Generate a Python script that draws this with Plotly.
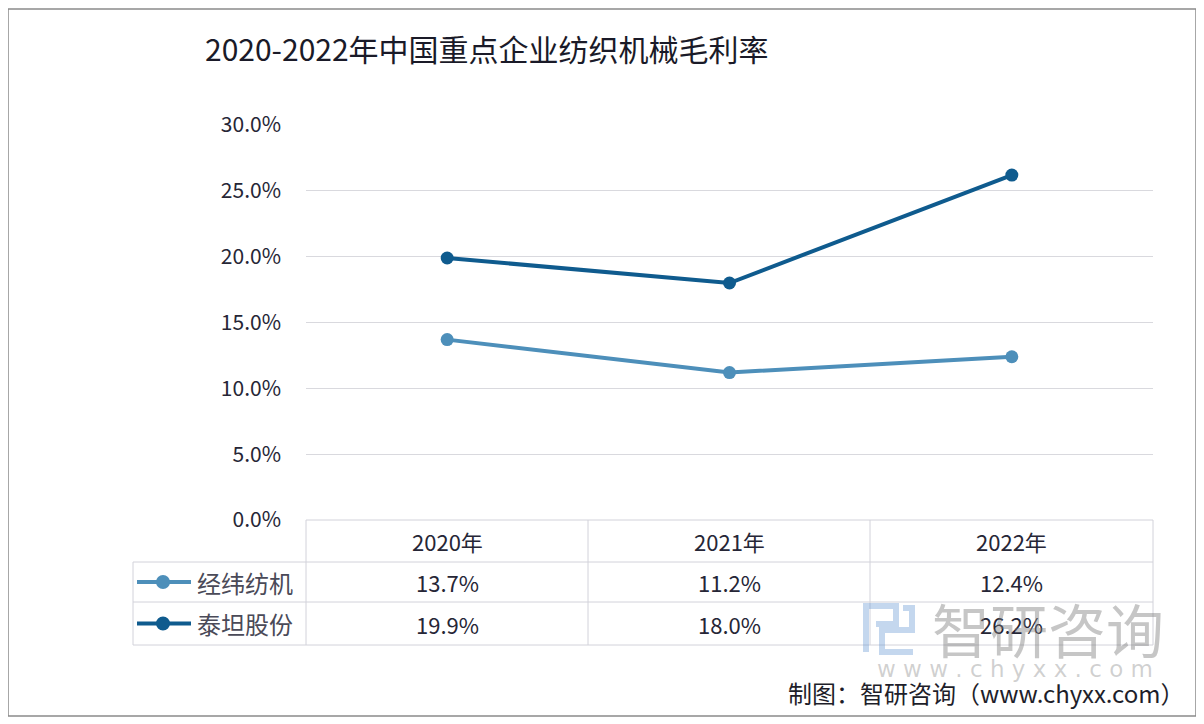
import plotly.graph_objects as go

# data
years = ["2020年", "2021年", "2022年"]
jingwei = [13.7, 11.2, 12.4]     # 经纬纺机
taitan = [19.9, 18.0, 26.2]      # 泰坦股份
series_names = ["经纬纺机", "泰坦股份"]
series_values = [jingwei, taitan]
series_colors = ["#4d8fba", "#0f5b8e"]
y_ticks = [0, 5, 10, 15, 20, 25, 30]

# the page puts the figure at (8, 8), so the figure is 8px smaller on each side
OFF = 8
W, H = 1204 - OFF, 724 - OFF
PL, PR, PT, PB = 306, 1153, 125, 520   # plot area, in screenshot pixels


def px_x(x):
    return (x - PL) / (PR - PL)


def px_y(y):
    return (PB - y) / (PB - PT)


CJK = "Noto Sans CJK SC"
grid = "#d9d9de"
txt = "#262636"

fig = go.Figure()

for name, vals, col in zip(series_names, series_values, series_colors):
    fig.add_trace(go.Scatter(
        x=years, y=vals, mode="lines+markers", name=name,
        line=dict(color=col, width=4),
        marker=dict(size=13, color=col),
        cliponaxis=False, showlegend=False, hoverinfo="skip"
    ))

shapes = []
# outer frame
shapes.append(dict(type="rect", xref="paper", yref="paper",
                   x0=px_x(8), x1=px_x(1196), y0=px_y(716), y1=px_y(9),
                   line=dict(color="#8a8a8a", width=1.5), layer="below"))

# table lines
tbl_line = dict(color="#d2d2da", width=1)
row_y = [520, 562, 602, 645]
col_x = [306, 588, 870, 1153]
shapes.append(dict(type="line", xref="paper", yref="paper",
                   x0=px_x(306), x1=px_x(1153), y0=px_y(520), y1=px_y(520), line=tbl_line))
for yy in row_y[1:]:
    shapes.append(dict(type="line", xref="paper", yref="paper",
                       x0=px_x(133), x1=px_x(1153), y0=px_y(yy), y1=px_y(yy), line=tbl_line))
for xx in col_x:
    shapes.append(dict(type="line", xref="paper", yref="paper",
                       x0=px_x(xx), x1=px_x(xx), y0=px_y(520), y1=px_y(645), line=tbl_line))
shapes.append(dict(type="line", xref="paper", yref="paper",
                   x0=px_x(133), x1=px_x(133), y0=px_y(562), y1=px_y(645), line=tbl_line))

annotations = []
for yr in years:
    annotations.append(dict(x=yr, xref="x", y=px_y(541), yref="paper", text=yr,
                            xanchor="center", yanchor="middle", showarrow=False,
                            font=dict(family=CJK, size=22, color=txt)))

for i, (name, vals, col) in enumerate(zip(series_names, series_values, series_colors)):
    cy = (row_y[i + 1] + row_y[i + 2]) / 2
    shapes.append(dict(type="line", xref="paper", yref="paper",
                       x0=px_x(137), x1=px_x(191), y0=px_y(cy), y1=px_y(cy),
                       line=dict(color=col, width=4)))
    shapes.append(dict(type="circle", xref="paper", yref="paper",
                       x0=px_x(156), x1=px_x(170), y0=px_y(cy + 7), y1=px_y(cy - 7),
                       fillcolor=col, line=dict(color=col, width=0)))
    annotations.append(dict(x=px_x(195), xref="paper", y=px_y(cy), yref="paper",
                            text=name, xanchor="left", yanchor="middle", showarrow=False,
                            font=dict(family=CJK, size=24, color="#4a4a58")))
    for yr, v in zip(years, vals):
        annotations.append(dict(x=yr, xref="x", y=px_y(cy), yref="paper",
                                text=f"{v:.1f}%", xanchor="center", yanchor="middle",
                                showarrow=False,
                                font=dict(family=CJK, size=22, color=txt)))

# watermark logo
logo = dict(color="rgba(100,150,210,0.38)", width=6)
shapes.append(dict(type="path", xref="paper", yref="paper",
                   path=(f"M {px_x(866)} {px_y(652)} L {px_x(866)} {px_y(606)} "
                         f"L {px_x(896)} {px_y(606)} L {px_x(896)} {px_y(624)} "
                         f"L {px_x(876)} {px_y(624)}"),
                   line=logo))
shapes.append(dict(type="path", xref="paper", yref="paper",
                   path=(f"M {px_x(903)} {px_y(608)} L {px_x(912)} {px_y(608)} "
                         f"L {px_x(912)} {px_y(630)} L {px_x(882)} {px_y(630)} "
                         f"L {px_x(882)} {px_y(652)} L {px_x(913)} {px_y(652)}"),
                   line=logo))
annotations.append(dict(x=px_x(930), xref="paper", y=px_y(628), yref="paper",
                        text="智研咨询", xanchor="left", yanchor="middle", showarrow=False,
                        font=dict(family=CJK, size=58, color="rgba(120,120,120,0.42)")))
annotations.append(dict(x=px_x(1015), xref="paper", y=px_y(669), yref="paper",
                        text="w w w . c h y x x . c o m", xanchor="center", yanchor="middle",
                        showarrow=False,
                        font=dict(family="DejaVu Sans", size=23, color="rgba(120,120,120,0.35)")))
# footer
annotations.append(dict(x=px_x(1186), xref="paper", y=px_y(692), yref="paper",
                        text="制图：智研咨询（www.chyxx.com）", xanchor="right", yanchor="middle",
                        showarrow=False,
                        font=dict(family=CJK, size=24, color="#1e1e2a")))

fig.update_layout(
    width=W, height=H,
    margin=dict(l=PL - OFF, r=W - (PR - OFF), t=PT - OFF, b=H - (PB - OFF)),
    paper_bgcolor="white", plot_bgcolor="white",
    title=dict(text="2020-2022年中国重点企业纺织机械毛利率",
               x=(205 - OFF) / W, xanchor="left",
               y=1 - (50 - OFF) / H, yanchor="middle",
               font=dict(family=CJK, size=30, color="#1a1a28")),
    xaxis=dict(type="category", range=[-0.5, 2.5], showticklabels=False,
               showgrid=False, zeroline=False, showline=False, ticks=""),
    yaxis=dict(range=[0, 30], tickvals=y_ticks,
               ticktext=[f"{v:.1f}%" for v in y_ticks],
               showgrid=True, gridcolor=grid, gridwidth=1.2, zeroline=False,
               showline=False, ticks="", ticklabelstandoff=24,
               tickfont=dict(family=CJK, size=21, color=txt)),
    shapes=shapes, annotations=annotations,
    showlegend=False,
)

fig.write_html("out.html")
